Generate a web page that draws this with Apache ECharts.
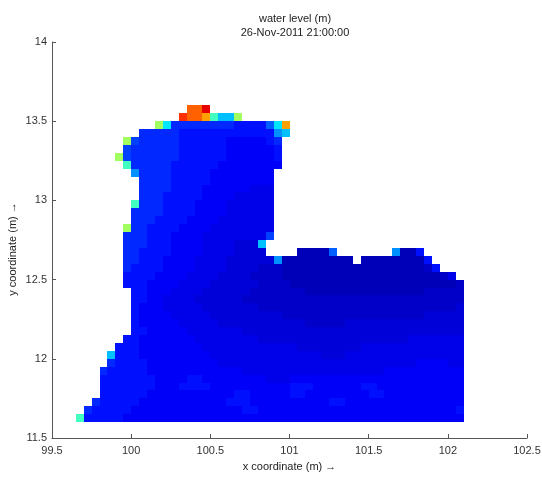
<!DOCTYPE html>
<html>
<head>
<meta charset="utf-8">
<script src="https://cdn.jsdelivr.net/npm/echarts@6/dist/echarts.min.js"></script>
<style>html,body{margin:0;padding:0;background:#fff}#c{width:542px;height:477px}</style>
</head>
<body>
<div id="c"></div>
<script>
// ---- data ----
const TITLE_LINES = ['water level (m)', '26-Nov-2011 21:00:00'];
const X_NAME = 'x coordinate (m) \u2192';
const Y_NAME = 'y coordinate (m) \u2192';
const X_RANGE = [99.5, 102.5];
const Y_RANGE = [11.5, 14];
const TICK_STEP = 0.5;
// grid of cells: left edge of column 0, top edge of row 0, cell size (data units)
const GRID_X0 = 99.65;
const GRID_YTOP = 13.6;
const CELL = 0.05;
// colour level (fraction of the jet colour scale) per code letter
const LEVELS = {
  '1': 0.055, '2': 0.071, '3': 0.087, '4': 0.103, '5': 0.118, '6': 0.141,
  '7': 0.164, '8': 0.188, '9': 0.219, 'g': 0.266, 'h': 0.313, 'i': 0.35,
  'j': 0.4375, 'k': 0.485, 'l': 0.532, 'y': 0.625, 'm': 0.718, 'n': 0.78,
  'o': 0.828, 'p': 0.898
};
// rows top to bottom, columns in groups of 5 ('.' = no cell)
const ROWS = [
  '..... ..... ....n np...',
  '..... ..... ...on nmjhh l....',
  '..... ..... li777 77777 66669 im...',
  '..... ...77 77766 66666 66666 gh...',
  '..... .l877 77766 66665 55556 7....',
  '..... .8777 77766 66665 55555 6....',
  '..... l8777 77766 66665 55555 6....',
  '..... .j777 77666 66655 55555 5....',
  '..... ..g77 77666 66555 55555',
  '..... ...77 77666 66555 55555',
  '..... ...77 77666 65555 55444',
  '..... ...77 76666 65555 44444',
  '..... ..j77 76666 55554 44444',
  '..... ..777 76666 55554 44444',
  '..... ..777 66665 55544 44444',
  '..... .l776 66655 55444 44444',
  '..... .7776 66555 54444 44448',
  '..... .7776 66555 54444 333h.',
  '..... .7766 66555 54444 3333. ...11 119.. ..... g116. ....',
  '..... .7766 65555 44443 33333 g1111 11111 .1111 11116 ....',
  '..... .7666 65555 44443 33322 21111 11111 11111 11112 6...',
  '..... .6666 55554 44433 33222 21111 11111 11111 11111 124.',
  '..... .6665 55544 44333 33322 22111 11111 11111 11111 1112',
  '..... ..665 55444 43333 33222 22221 11111 11111 11112 2222',
  '..... ..665 54444 33333 32222 22222 22222 22222 22222 2222',
  '..... ..655 54444 43333 33322 22222 22222 22222 22222 2223',
  '..... ..655 55444 44333 33333 32222 22222 22222 22223 3333',
  '..... ..655 55544 44433 33333 33332 22223 33333 33333 3333',
  '..... ..665 55554 44444 43333 33333 33333 33333 33333 3333',
  '..... .6655 55555 44444 44433 33333 33333 33333 33444 4444',
  '..... 66655 55555 54444 44444 44433 33333 34444 44444 4444',
  '....h 66655 55555 55444 44444 44444 43334 44444 44444 4444',
  '....7 66665 55555 55544 44444 44444 44444 44444 44455 5544',
  '...76 66665 55555 55555 54444 44444 44444 44445 55555 5555',
  '...66 66666 55556 65555 55554 44555 55555 55555 55555 5555',
  '...66 66666 55566 66555 55555 55666 55555 56655 55555 5555',
  '...66 66665 55555 55555 66555 55665 55555 55665 55555 5555',
  '..766 66655 55555 55556 66555 55555 55665 55555 55555 5555',
  '.7666 66555 55555 55555 56655 55555 55555 55555 55555 5556',
  'j6666 65555 55555 55555 55555 55555 55555 55555 55555 5555'
];
const JET = ['#000080', '#0000ff', '#0080ff', '#00ffff', '#80ff80', '#ffff00', '#ff8000', '#ff0000', '#800000'];

// ---- build cell list: [left x, bottom y, level] ----
const cells = [];
ROWS.forEach(function (row, r) {
  const codes = row.replace(/ /g, '');
  for (let c = 0; c < codes.length; c++) {
    const ch = codes[c];
    if (ch === '.') continue;
    cells.push([
      +(GRID_X0 + c * CELL).toFixed(4),
      +(GRID_YTOP - (r + 1) * CELL).toFixed(4),
      LEVELS[ch]
    ]);
  }
});

const FONT = 'Liberation Sans, Arial, Helvetica, sans-serif';
const chart = echarts.init(document.getElementById('c'), null, { renderer: 'canvas' });
chart.setOption({
  animation: false,
  backgroundColor: '#ffffff',
  title: {
    text: TITLE_LINES.join('\n'),
    left: 290,
    top: 7,
    textAlign: 'center',
    textStyle: { fontFamily: FONT, fontSize: 11, fontWeight: 'normal', color: '#222', lineHeight: 14 }
  },
  grid: { left: 52, top: 42, width: 475, height: 396, containLabel: false, outerBoundsMode: 'none' },
  visualMap: {
    show: false, type: 'continuous', min: 0, max: 1, dimension: 2, seriesIndex: 0,
    inRange: { color: JET }
  },
  xAxis: {
    type: 'value', min: X_RANGE[0], max: X_RANGE[1], interval: TICK_STEP,
    name: X_NAME, nameLocation: 'middle', nameGap: 23, nameMoveOverlap: false,
    nameTextStyle: { fontFamily: FONT, fontSize: 11, color: '#222' },
    axisLine: { show: true, lineStyle: { color: '#555', width: 1 } },
    axisTick: { show: true, inside: true, length: 4, lineStyle: { color: '#555' } },
    axisLabel: { margin: 7, fontFamily: FONT, fontSize: 11, color: '#333' },
    splitLine: { show: false }
  },
  yAxis: {
    type: 'value', min: Y_RANGE[0], max: Y_RANGE[1], interval: TICK_STEP,
    name: Y_NAME, nameLocation: 'middle', nameGap: 34, nameRotate: 90, nameMoveOverlap: false,
    nameTextStyle: { fontFamily: FONT, fontSize: 11, color: '#222', padding: [0, 18, 0, 0] },
    axisLine: { show: true, lineStyle: { color: '#555', width: 1 } },
    axisTick: { show: true, inside: true, length: 4, lineStyle: { color: '#555' } },
    axisLabel: { margin: 5, fontFamily: FONT, fontSize: 11, color: '#333' },
    splitLine: { show: false }
  },
  series: [{
    type: 'custom',
    data: cells,
    encode: { x: 0, y: 1 },
    renderItem: function (params, api) {
      const x = api.value(0), y = api.value(1);
      const xr = +(x + CELL).toFixed(4), yt = +(y + CELL).toFixed(4);
      const a = api.coord([x, yt]);
      const b = api.coord([xr, y]);
      const x0 = Math.round(a[0]), y0 = Math.round(a[1]);
      return {
        type: 'rect',
        shape: { x: x0, y: y0, width: Math.round(b[0]) - x0, height: Math.round(b[1]) - y0 },
        style: { fill: api.visual('color') }
      };
    }
  }]
});
</script>
</body>
</html>
